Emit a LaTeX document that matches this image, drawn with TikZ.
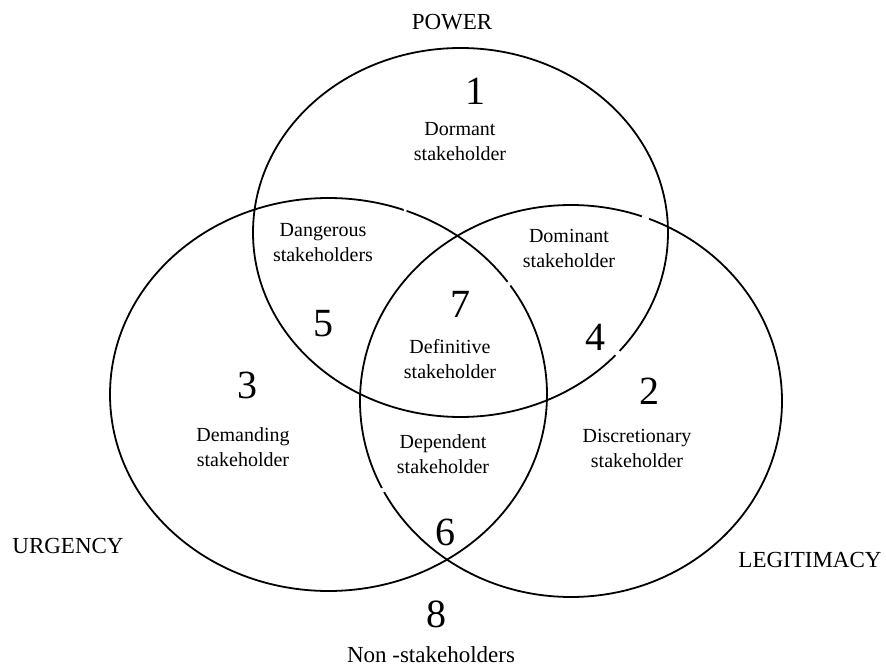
\documentclass[tikz,border=0pt]{standalone}
\usepackage{fontspec}
\setmainfont{Liberation Serif}
\usetikzlibrary{shapes.geometric}

\tikzset{
  ring/.style={draw=black, line width=1.8pt, ellipse, inner sep=0pt, fill=none},
  lbl/.style={font=\fontsize{20}{25}\selectfont, align=center, anchor=base, inner sep=0pt},
  num/.style={font=\fontsize{40}{40}\selectfont, anchor=base, inner sep=0pt},
  title/.style={font=\fontsize{23}{27}\selectfont, anchor=base, inner sep=0pt},
  breakmark/.style={draw=white, line width=2.8pt, line cap=butt},
}

\begin{document}
\begin{tikzpicture}[x=1pt, y=-1pt]
  \useasboundingbox[fill=white] (0,0) rectangle (886,668);

  % the three attribute sets
  \node[ring, minimum width=415pt, minimum height=369pt] (power) at (460.5,232.5) {};
  \node[ring, minimum width=437pt, minimum height=393pt] (urgency) at (328.5,394.5) {};
  \node[ring, minimum width=422pt, minimum height=392pt] (legitimacy) at (571,401) {};

  % small breaks in the outlines
  \coordinate (b1a) at (642,216.4);   \coordinate (b1b) at (649,218.9);
  \coordinate (b2a) at (615.5,355.2); \coordinate (b2b) at (619.5,351.0);
  \coordinate (b3a) at (507.6,282);   \coordinate (b3b) at (510.2,285.5);
  \coordinate (b4a) at (404,210.6);   \coordinate (b4b) at (406.5,210.1);
  \coordinate (b5a) at (382,488);     \coordinate (b5b) at (384,492);
  \draw[breakmark] (b1a) -- (b1b);
  \draw[breakmark] (b2a) -- (b2b);
  \draw[breakmark] (b3a) -- (b3b);
  \draw[breakmark] (b4a) -- (b4b);
  \draw[breakmark] (b5a) -- (b5b);

  % set names
  \node[title] (tpower) at (452,30) {POWER};
  \node[title] (turgency) at (68,553) {URGENCY};
  \node[title] (tlegit) at (810,567) {LEGITIMACY};

  % class numbers
  \node[num] (n1) at (475,105) {1};
  \node[num] (n2) at (649,404) {2};
  \node[num] (n3) at (247,398) {3};
  \node[num] (n4) at (595,350) {4};
  \node[num] (n5) at (323,337) {5};
  \node[num] (n6) at (445,545) {6};
  \node[num] (n7) at (460,317) {7};
  \node[num] (n8) at (436,627) {8};

  % class names (anchored on the last line's baseline)
  \node[lbl] (l1) at (460,161) {Dormant\\stakeholder};
  \node[lbl] (l2) at (637,467) {Discretionary\\stakeholder};
  \node[lbl] (l3) at (243,466) {Demanding\\stakeholder};
  \node[lbl] (l4) at (569,268) {Dominant\\stakeholder};
  \node[lbl] (l5) at (323,262) {Dangerous\\stakeholders};
  \node[lbl] (l6) at (443,473) {Dependent\\stakeholder};
  \node[lbl] (l7) at (450,378) {Definitive\\stakeholder};
  \node[title] (l8) at (431,662) {Non -stakeholders};
\end{tikzpicture}
\end{document}
